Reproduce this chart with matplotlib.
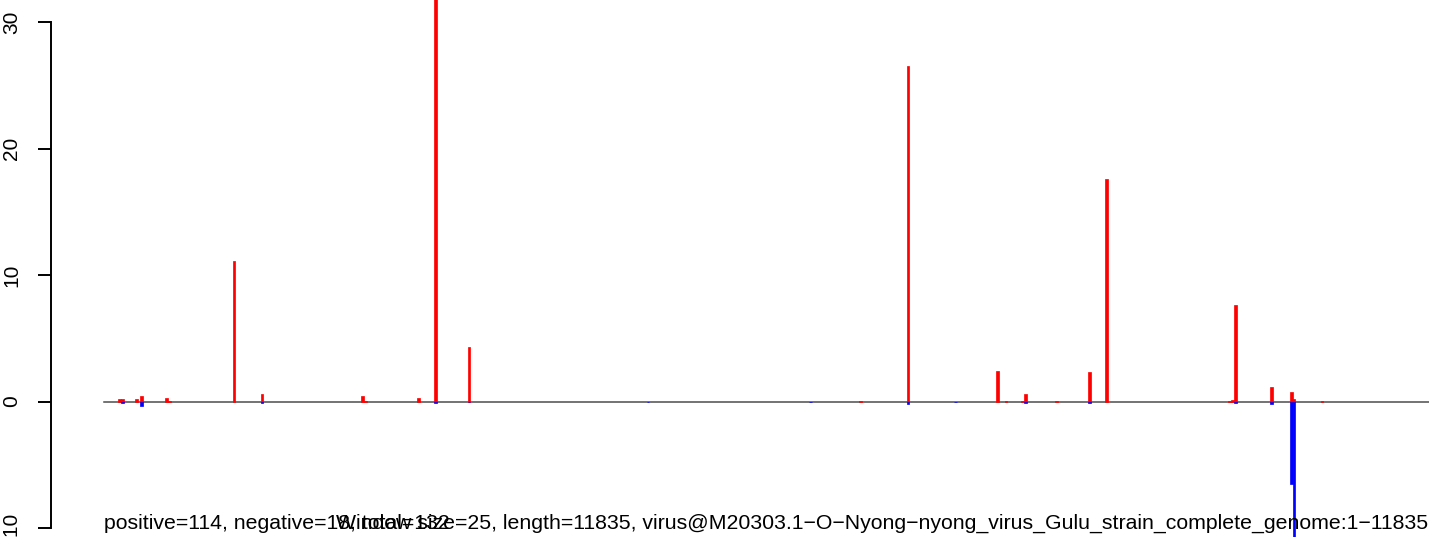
import matplotlib
matplotlib.use("Agg")
import matplotlib.pyplot as plt
from matplotlib.transforms import blended_transform_factory

plt.rcParams['font.family'] = ['Liberation Sans', 'DejaVu Sans']

# ---- data ----
genome_length = 11835
window_size = 25
# window start positions (bp) and values
pos_start = [125, 150, 275, 325, 550, 575, 1150, 1400, 2300, 2325, 2800, 2950,
             3250, 6750, 7175, 7975, 8050, 8200, 8225, 8500, 8800, 8950,
             10050, 10075, 10100, 10425, 10600, 10625, 10875]
pos_val = [0.18, 0.18, 0.18, 0.42, 0.26, 0.05, 11.1, 0.58, 0.42, 0.05, 0.26, 35.0,
           4.3, 0.05, 26.5, 2.42, 0.05, 0.05, 0.58, 0.05, 2.32, 17.6,
           0.05, 0.13, 7.6, 1.13, 0.74, 0.21, 0.05]
neg_start = [150, 325, 1400, 2950, 3250, 4850, 6300, 7175, 7600, 8225, 8800,
             10100, 10425, 10600, 10625]
neg_val = [-0.13, -0.37, -0.08, -0.1, -0.05, -0.05, -0.05, -0.21, -0.05, -0.13, -0.13,
           -0.1, -0.21, -6.5, -14.0]
yticks = [-10, 0, 10, 20, 30]
label_left = "positive=114, negative=18, total=132"
label_right = ("Window size=25, length=11835, "
               "virus@M20303.1\u2212O\u2212Nyong\u2212nyong_virus_Gulu_strain_complete_genome:1\u221211835")

W, H = 1429, 537
fig = plt.figure(figsize=(W / 100, H / 100), dpi=100)

# plot region: y axis at x=51 px, 0 bp at 104 px (R 4% extension), extends beyond figure right
xmin = -0.04 * genome_length
xmax = genome_length * 1.04
scale = (1428 - 104) / genome_length  # px per bp
width_px = (xmax - xmin) * scale
ax = fig.add_axes([51 / W, 0, width_px / W, 1])
ax.set_xlim(xmin, xmax)
ppu = (528 - 22) / 40.0
ax.set_ylim(-10 - (H - 528) / ppu, 30 + 22 / ppu)

ax.plot([0, genome_length + 100], [0, 0], color='#4d4d4d', lw=1.1, zorder=1, clip_on=False)
ax.bar(pos_start, pos_val, width=window_size, align='edge', color='#FF0000',
       edgecolor='#FF0000', linewidth=0.5, zorder=2)
ax.bar(neg_start, neg_val, width=window_size, align='edge', color='#0000FF',
       edgecolor='#0000FF', linewidth=0.5, zorder=2)

for s in ['top', 'right', 'bottom']:
    ax.spines[s].set_visible(False)
ax.spines['left'].set_bounds(-10, 30)
ax.spines['left'].set_linewidth(1.4)
ax.set_xticks([])
ax.set_yticks(yticks)
ax.set_yticklabels([str(t) for t in yticks], rotation=90, va='center', fontsize=15)
ax.tick_params(axis='y', length=9.5, width=1.4, pad=12)

trans = blended_transform_factory(ax.transData, fig.transFigure)
ybase = (H - 529) / H
ax.text(0, ybase, label_left, transform=trans, ha='left', va='baseline', fontsize=15.35)
ax.text(genome_length, ybase, label_right, transform=trans, ha='right', va='baseline', fontsize=15.35)

fig.savefig("out.png", dpi=100)
